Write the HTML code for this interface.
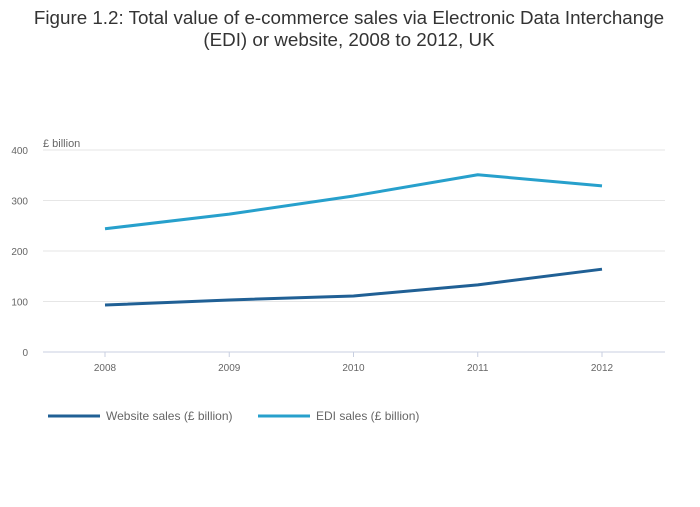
<!DOCTYPE html>
<html><head><meta charset="utf-8"><style>
body{margin:0;background:#fff;width:700px;height:502px;overflow:hidden;font-family:"Liberation Sans","Open Sans",sans-serif;}
</style></head><body>
<svg width="700" height="502" xmlns="http://www.w3.org/2000/svg">
<text x="349" y="24" text-anchor="middle" font-size="18.8" fill="#333">Figure 1.2: Total value of e-commerce sales via Electronic Data Interchange</text>
<text x="349" y="46" text-anchor="middle" font-size="18.8" fill="#333">(EDI) or website, 2008 to 2012, UK</text>
<text x="43" y="147" font-size="11" fill="#666">£ billion</text>
<g id="grid"></g><g id="series"></g>
<g>
<line x1="48" y1="416" x2="100" y2="416" stroke="#206095" stroke-width="3"/>
<text x="106" y="420" font-size="12" fill="#666">Website sales (£ billion)</text>
<line x1="258" y1="416" x2="310" y2="416" stroke="#27a0cc" stroke-width="3"/>
<text x="316" y="420" font-size="12" fill="#666">EDI sales (£ billion)</text>
</g>
</svg>
<script>
const years=["2008","2009","2010","2011","2012"];
const websiteSales=[93,103,111,133,164];
const ediSales=[244,273,309,351,329];
const yTicks=[0,100,200,300,400];
const NS="http://www.w3.org/2000/svg";
const x=i=>105+i*124.25;
const y=v=>352-v*0.505;
function mk(t,a,p){const e=document.createElementNS(NS,t);for(const k in a)e.setAttribute(k,a[k]);p.appendChild(e);return e;}
const g=document.getElementById('grid'),s=document.getElementById('series');
yTicks.forEach(v=>{
 const l=mk('line',{x1:43,x2:665,y1:y(v),y2:y(v),stroke:v===0?'#c8cfe0':'#e6e6e6','stroke-width':1},g);
 
 
 const t=mk('text',{x:28,y:y(v)+4,'text-anchor':'end','font-size':10,fill:'#666'},g);t.textContent=v;
 
 
});
years.forEach((yr,i)=>{
 const tk=mk('line',{x1:x(i),x2:x(i),y1:352,y2:357,stroke:'#c8cfe0'},g);
 
 
 const t=mk('text',{x:x(i),y:371,'text-anchor':'middle','font-size':10,fill:'#666'},g);t.textContent=yr;
 
 
});
function line(data,color,name){
 const p=mk('polyline',{points:data.map((v,i)=>x(i)+','+y(v)).join(' '),fill:'none',stroke:color,'stroke-width':3,'stroke-linejoin':'round'},s);
 
 
}
line(websiteSales,'#206095','website-sales-line');
line(ediSales,'#27a0cc','edi-sales-line');
</script>
</body></html>
